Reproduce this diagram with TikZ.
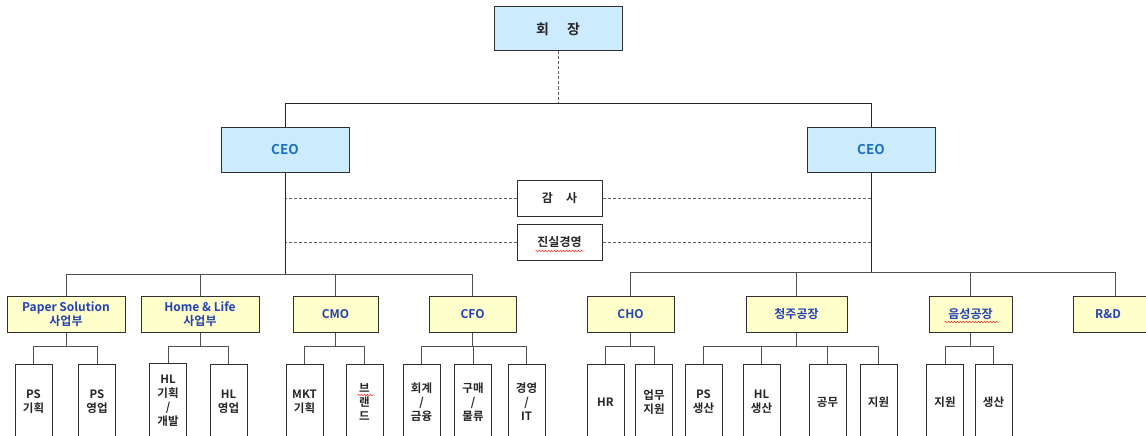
\documentclass[tikz,border=0pt]{standalone}
\usepackage{fontspec}
\setmainfont{Noto Sans CJK KR}[BoldFont={Noto Sans CJK KR Bold}]
\usetikzlibrary{decorations.pathmorphing}
\definecolor{ceofill}{HTML}{CCEBFC}
\definecolor{yelfill}{HTML}{FFFFCC}
\definecolor{ceotext}{HTML}{1C6FC0}
\definecolor{divtext}{HTML}{2442B4}
\definecolor{boxline}{HTML}{303030}
\definecolor{linegray}{HTML}{505050}
\definecolor{dashgray}{HTML}{606060}
\begin{document}
\begin{tikzpicture}[x=1pt,y=-1pt,
  base/.style={draw=boxline,line width=1pt,inner sep=0pt,align=center},
  topbox/.style={base,fill=ceofill,minimum width=128pt,minimum height=44pt,text=black!85,font=\bfseries\fontsize{14}{16}\selectfont},
  ceo/.style={base,fill=ceofill,minimum width=128pt,minimum height=45pt,text=ceotext,font=\bfseries\fontsize{13.5}{16}\selectfont},
  aud/.style={base,fill=white,minimum width=85pt,minimum height=36pt,text=black!85,font=\bfseries\fontsize{12}{14}\selectfont},
  div/.style={base,fill=yelfill,minimum height=36pt,text=divtext,font=\bfseries\fontsize{12}{14}\selectfont},
  unit/.style={base,fill=white,minimum width=37pt,minimum height=76pt,text=black!85,font=\bfseries\fontsize{11.5}{14}\selectfont},
  conn/.style={draw=linegray,line width=1pt},
  mainline/.style={draw=black!85,line width=0.9pt},
  dline/.style={draw=dashgray,line width=0.9pt,dash pattern=on 3pt off 2pt},
  squig/.style={draw=red!80,line width=0.6pt,decorate,decoration={snake,segment length=3pt,amplitude=0.7pt}}
]
\useasboundingbox (0,0) rectangle (1146,436);
\clip (0,0) rectangle (1146,436);

% top
\node[topbox] (hz) at (558,29) {회\hspace{1.3em}장};
\node[ceo] (ceoL) at (285,149.5) {CEO};
\node[ceo] (ceoR) at (871,149.5) {CEO};
\coordinate (tbus) at (558,103);
\draw[dline] (hz.south) -- (tbus);
\draw[mainline] (ceoL.north) -- (ceoL.north |- tbus) -- (ceoR.north |- tbus) -- (ceoR.north);

% audit
\node[aud] (gam) at (559.5,198.5) {감\hspace{1.1em}사};
\node[aud] (jin) at (559.5,242) {진실경영};
\draw[dline] (gam.west) -- (gam.west -| ceoL.south);
\draw[dline] (gam.east) -- (gam.east -| ceoR.south);
\draw[dline] (jin.west) -- (jin.west -| ceoL.south);
\draw[dline] (jin.east) -- (jin.east -| ceoR.south);
\draw[squig] ([xshift=-24pt,yshift=-9pt]jin.center) -- ([xshift=24pt,yshift=-9pt]jin.center);

% divisions
\node[div,minimum width=118pt] (ps) at (66,314) {Paper Solution\\사업부};
\node[div,minimum width=118pt] (hl) at (200,314) {Home \& Life\\사업부};
\node[div,minimum width=85pt] (cmo) at (335.5,314) {CMO};
\node[div,minimum width=87pt] (cfo) at (472.5,314) {CFO};
\node[div,minimum width=87pt] (cho) at (630.5,314) {CHO};
\node[div,minimum width=101pt] (cj) at (796.5,314) {청주공장};
\node[div,minimum width=83pt] (es) at (970.5,314) {음성공장};
\node[div,minimum width=84pt] (rd) at (1115,314) {\hspace{-14pt}R\&D};
\draw[squig] ([xshift=-26pt,yshift=-8pt]es.center) -- ([xshift=28pt,yshift=-8pt]es.center);

\draw[mainline] (ceoL.south) -- ++(0,102);
\draw[mainline] (ceoR.south) -- ++(0,100);
\foreach \c in {ps,hl,cmo,cfo} \draw[conn] (ceoL.south) ++(0,102) -| (\c.north);
\foreach \c in {cho,cj,es,rd} \draw[conn] (ceoR.south) ++(0,100) -| (\c.north);

% units
\node[unit] (ps1) at (33.5,402) {PS\\기획};
\node[unit] (ps2) at (97,402) {PS\\영업};
\node[unit] (hl1) at (168,401) {HL\\기획\\/\\개발};
\node[unit] (hl2) at (228.5,402) {HL\\영업};
\node[unit] (m1) at (304.5,402) {MKT\\기획};
\node[unit] (m2) at (364.5,402) {브\\랜\\드};
\node[unit] (f1) at (421.5,402) {회계\\/\\금융};
\node[unit] (f2) at (473,402) {구매\\/\\물류};
\node[unit] (f3) at (526.5,402) {경영\\/\\IT};
\node[unit] (c1) at (605.5,402) {HR};
\node[unit] (c2) at (654,402) {업무\\지원};
\node[unit] (j1) at (703.5,402) {PS\\생산};
\node[unit] (j2) at (761.5,402) {HL\\생산};
\node[unit] (j3) at (827.5,402) {공무};
\node[unit] (j4) at (878.5,402) {지원};
\node[unit] (e1) at (945,402) {지원};
\node[unit] (e2) at (993.5,402) {생산};
\draw[squig] ([xshift=-7pt,yshift=7pt]m2.center) -- ([xshift=9pt,yshift=7pt]m2.center);

\foreach \c in {ps1,ps2} \draw[conn] (ps.south) -- ++(0,14) -| (\c.north);
\foreach \c in {hl1,hl2} \draw[conn] (hl.south) -- ++(0,14) -| (\c.north);
\foreach \c in {m1,m2} \draw[conn] (cmo.south) -- ++(0,14) -| (\c.north);
\foreach \c in {f1,f2,f3} \draw[conn] (cfo.south) -- ++(0,14) -| (\c.north);
\foreach \c in {c1,c2} \draw[conn] (cho.south) -- ++(0,14) -| (\c.north);
\foreach \c in {j1,j2,j3,j4} \draw[conn] (cj.south) -- ++(0,14) -| (\c.north);
\foreach \c in {e1,e2} \draw[conn] (es.south) -- ++(0,14) -| (\c.north);
\end{tikzpicture}
\end{document}
